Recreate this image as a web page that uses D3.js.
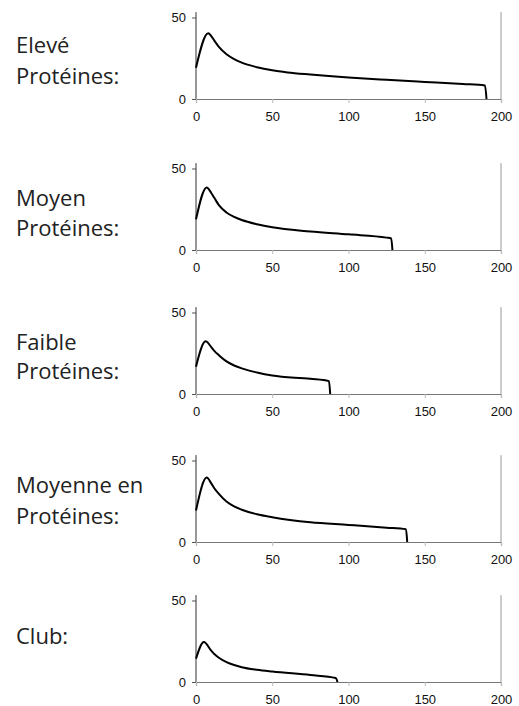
<!DOCTYPE html>
<html>
<head>
  <meta charset="utf-8">
  <title></title>
  <style>
    body { margin: 0; background: #fff; }
    .label { font-family: "Open Sans", Lato, sans-serif; font-size: 22px; fill: #222; }
  </style>
</head>
<body>
<svg width="519" height="706"></svg>
<script src="https://cdn.jsdelivr.net/npm/d3@7/dist/d3.min.js"></script>
<script>

// one series per panel: x = time, y = value
var names = [["Elevé", "Protéines:"], ["Moyen", "Protéines:"], ["Faible", "Protéines:"], ["Moyenne en", "Protéines:"], ["Club:"]];

var xs1 = [0, 8, 10, 12, 15, 20, 25, 30, 40, 50, 60, 75, 100, 125, 150, 175, 189.5, 190.5];
var ys1 = [19.2, 40.3, 38.6, 35.8, 32, 27.5, 24.5, 22.3, 19.5, 17.6, 16.3, 15, 13.2, 11.8, 10.5, 9.2, 8.3, 0];

var xs2 = [0, 7, 10, 12, 15, 20, 25, 30, 40, 50, 75, 100, 125, 128, 128.8];
var ys2 = [18.8, 38.4, 35, 32, 27.5, 23, 20.3, 18.4, 15.8, 13.9, 11.4, 9.6, 7.6, 7.1, 0];

var xs3 = [0, 6.3, 10, 12, 15, 20, 25, 30, 40, 50, 75, 87.2, 88];
var ys3 = [16.7, 32.3, 28.8, 26.5, 23.8, 20, 17.5, 15.7, 13.2, 11.3, 9.3, 7.9, 0];

var xs4 = [0, 7, 10, 12, 15, 20, 25, 30, 40, 50, 75, 100, 125, 137.7, 138.5];
var ys4 = [19.3, 39.5, 36, 33, 29.5, 24.8, 21.8, 19.8, 17, 15.2, 12.1, 10.5, 8.8, 7.8, 0];

var xs5 = [0, 5.2, 10, 12, 15, 20, 25, 30, 40, 50, 75, 91.6, 92.8];
var ys5 = [14.3, 24.6, 19.2, 17.2, 14.9, 12.2, 10.4, 9.1, 7.5, 6.4, 4.3, 2.5, 0];

var xTicks = [0, 50, 100, 150, 200];
var yTicks = [0, 50];

var series = [[xs1, ys1], [xs2, ys2], [xs3, ys3], [xs4, ys4], [xs5, ys5]];

// layout: y pixel of the zero line for each panel
var baseY = [99, 250, 394, 542, 682];
var labelDy = [[-46.5, -15.5], [-44, -14], [-44, -15], [-49, -18.5], [-38.5]];

var svg = d3.select("svg");

var x = d3.scaleLinear().domain([0, 200]).range([196, 501]);

function tickFont(a) {
	a.attr("font-family", "'Liberation Sans', Arial, sans-serif")
		.attr("font-size", 13);
	a.selectAll(".tick text").attr("fill", "#111");
}

series.forEach(function(s, i) {
	var y0 = baseY[i];
	var y = d3.scaleLinear().domain([0, 50]).range([y0, y0 - 81.5]);
	var g = svg.append("g");

	// left axis
	g.append("g")
		.attr("transform", "translate(196,0)")
		.call(d3.axisLeft(y).tickValues(yTicks).tickSize(4).tickPadding(6))
		.call(tickFont)
		.call(function(a) {
			a.select(".domain").remove();
			a.selectAll(".tick line").attr("stroke", "#555");
		});
	g.append("line")
		.attr("x1", 196).attr("x2", 196)
		.attr("y1", y(53.3)).attr("y2", y0)
		.attr("stroke", "#333").attr("stroke-width", 1);

	// right border
	g.append("line")
		.attr("x1", 501).attr("x2", 501)
		.attr("y1", y(53.3)).attr("y2", y0)
		.attr("stroke", "#999").attr("stroke-width", 1);

	// bottom axis
	g.append("g")
		.attr("transform", "translate(0," + y0 + ")")
		.call(d3.axisBottom(x).tickValues(xTicks).tickSize(4).tickPadding(9))
		.call(tickFont)
		.call(function(a) {
			a.select(".domain").attr("stroke", "#777").attr("stroke-width", 1.2);
			a.selectAll(".tick line").attr("stroke", "#bbb");
		});

	var pts = s[0].map(function(v, j) { return [v, s[1][j]]; });
	var line = d3.line()
		.x(function(d) { return x(d[0]); })
		.y(function(d) { return y(d[1]); })
		.curve(d3.curveMonotoneX);

	g.append("path")
		.datum(pts)
		.attr("d", line)
		.attr("fill", "none")
		.attr("stroke", "#000")
		.attr("stroke-width", 2)
		.attr("stroke-linejoin", "round");

	names[i].forEach(function(t, k) {
		g.append("text")
			.attr("class", "label")
			.attr("x", 16)
			.attr("y", y0 + labelDy[i][k])
			.text(t);
	});
});
</script>
</body>
</html>
